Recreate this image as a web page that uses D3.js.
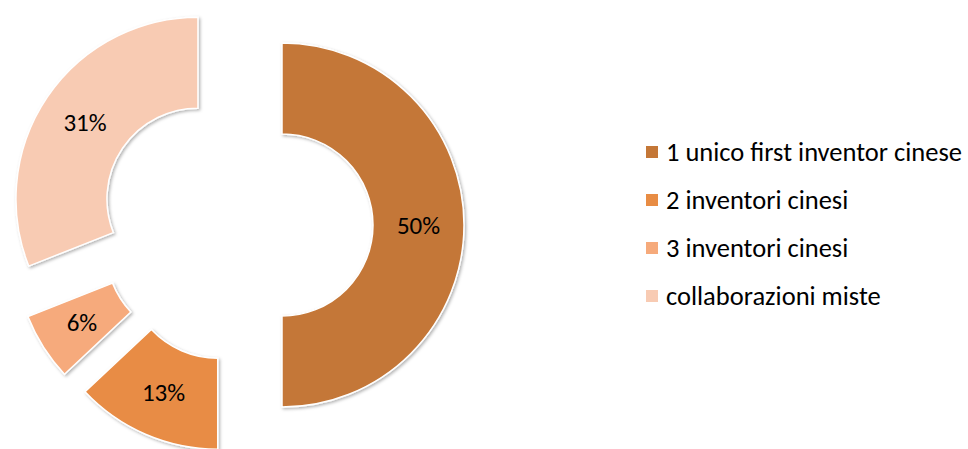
<!DOCTYPE html>
<html>
<head>
<meta charset="utf-8">
<script src="https://cdn.jsdelivr.net/npm/d3@7"></script>
<style>
  html, body { margin: 0; padding: 0; background: #fff; }
  svg { display: block; }
  text { font-family: Carlito, Calibri, "Open Sans", sans-serif; fill: #000; }
</style>
</head>
<body>
<svg id="chart" width="968" height="449"></svg>
<script>
// Inventor composition of the patents
const categories = ["1 unico first inventor cinese", "2 inventori cinesi", "3 inventori cinesi", "collaborazioni miste"];
const values = [50, 13, 6, 31];
const colors = ["#C47737", "#E88C44", "#F6AA7B", "#F8CBB3"];

const width = 968, height = 449;
const svg = d3.select("#chart");

const cx = 236, cy = 225;
const outerR = 182, innerR = 91;
const explode = 46;

// soft drop shadow under each slice
const defs = svg.append("defs");
const f = defs.append("filter").attr("id", "shadow")
  .attr("x", "-20%").attr("y", "-20%").attr("width", "140%").attr("height", "140%");
f.append("feDropShadow").attr("dx", 1.5).attr("dy", 1.5).attr("stdDeviation", 1.5)
  .attr("flood-color", "#000").attr("flood-opacity", 0.3);

const pie = d3.pie().sort(null).value(d => d)(values);
const arc = d3.arc().innerRadius(innerR).outerRadius(outerR);
const labelArc = d3.arc().innerRadius((innerR + outerR) / 2).outerRadius((innerR + outerR) / 2);

const g = svg.append("g").attr("transform", `translate(${cx},${cy})`);

const slices = g.selectAll("g.slice").data(pie).join("g")
  .attr("class", "slice")
  .attr("transform", d => {
    const a = (d.startAngle + d.endAngle) / 2;
    return `translate(${Math.sin(a) * explode},${-Math.cos(a) * explode})`;
  });

slices.append("path")
  .attr("d", arc)
  .attr("fill", (d, i) => colors[i])
  .attr("stroke", "#fff")
  .attr("stroke-width", 1.5)
  .attr("filter", "url(#shadow)");

slices.append("text")
  .attr("transform", d => `translate(${labelArc.centroid(d)})`)
  .attr("text-anchor", "middle")
  .attr("dominant-baseline", "central")
  .attr("font-size", 25)
  .text(d => d.value + "%");

// legend
const legend = svg.append("g").attr("transform", "translate(646,152)");
const rows = legend.selectAll("g").data(categories).join("g")
  .attr("transform", (d, i) => `translate(0,${i * 48})`);
rows.append("rect")
  .attr("x", 0).attr("y", -6).attr("width", 12).attr("height", 12)
  .attr("fill", (d, i) => colors[i]);
rows.append("text")
  .attr("x", 20).attr("y", 0)
  .attr("dominant-baseline", "central")
  .attr("font-size", 26.5)
  .text(d => d);
</script>
</body>
</html>
